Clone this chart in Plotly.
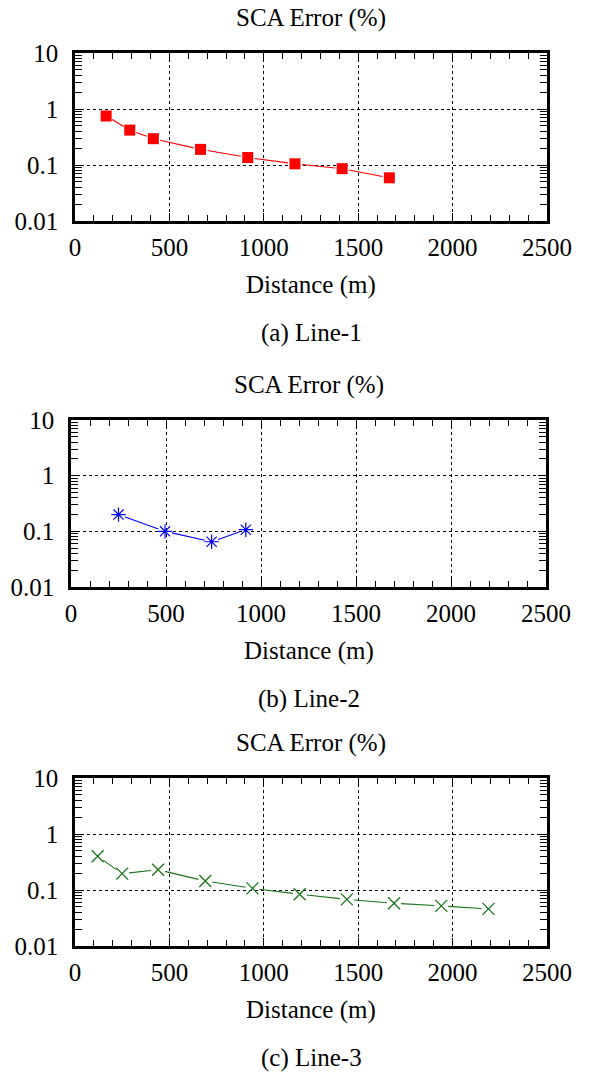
import math
import plotly.graph_objects as go

# Line-1: SCA error (%) versus distance (m)
line1_dist = [165, 290, 415, 665, 915, 1165, 1415, 1665]
line1_err = [0.75, 0.42, 0.295, 0.19, 0.136, 0.105, 0.086, 0.059]

# Line-2
line2_dist = [250, 495, 740, 920]
line2_err = [0.20, 0.10, 0.065, 0.107]

# Line-3
line3_dist = [120, 250, 440, 690, 940, 1190, 1440, 1690, 1940, 2190]
line3_err = [0.40, 0.196, 0.23, 0.145, 0.107, 0.084, 0.068, 0.058, 0.052, 0.046]

x_ticks = [0, 500, 1000, 1500, 2000, 2500]
y_ticks = [0.01, 0.1, 1, 10]
y_tick_text = ["0.01", "0.1", "1", "10"]
captions = ["(a) Line-1", "(b) Line-2", "(c) Line-3"]

FIG_W, FIG_H = 590, 1075
FONT = "Liberation Serif, Times New Roman, serif"
FS = 25
X_RANGE = [0, 2500]
Y_RANGE = [-2, 1]  # log10

# panel boxes in pixels: (left, right, top, bottom)
boxes = [(75, 547, 53, 221), (71, 546, 420, 587), (75, 547, 778, 946)]


def gapped_segments(xs, ys, box, gap=7.0):
    """Connect the points with segments that stop short of each marker."""
    left, right, top, bottom = box
    w, h = right - left, bottom - top

    def to_px(x, y):
        return ((x - X_RANGE[0]) / (X_RANGE[1] - X_RANGE[0]) * w,
                (math.log10(y) - Y_RANGE[0]) / (Y_RANGE[1] - Y_RANGE[0]) * h)

    def from_px(px, py):
        return (X_RANGE[0] + px / w * (X_RANGE[1] - X_RANGE[0]),
                10 ** (Y_RANGE[0] + py / h * (Y_RANGE[1] - Y_RANGE[0])))

    sx, sy = [], []
    for i in range(len(xs) - 1):
        p0 = to_px(xs[i], ys[i])
        p1 = to_px(xs[i + 1], ys[i + 1])
        dx, dy = p1[0] - p0[0], p1[1] - p0[1]
        d = math.hypot(dx, dy)
        if d <= 2 * gap:
            continue
        ux, uy = dx / d, dy / d
        a = from_px(p0[0] + ux * gap, p0[1] + uy * gap)
        b = from_px(p1[0] - ux * gap, p1[1] - uy * gap)
        sx += [a[0], b[0], None]
        sy += [a[1], b[1], None]
    return sx, sy


series = [
    (line1_dist, line1_err, "#ff0000", dict(symbol="square", size=11, color="#ff0000")),
    (line2_dist, line2_err, "#0000ff",
     dict(symbol="asterisk-open", size=12, color="#0000ff", line=dict(color="#0000ff", width=1.2))),
    (line3_dist, line3_err, "#1a741a",
     dict(symbol="x-thin-open", size=12, color="#1a741a", line=dict(color="#1a741a", width=1.3))),
]

fig = go.Figure()
layout = dict(
    width=FIG_W, height=FIG_H,
    margin=dict(l=0, r=0, t=0, b=0, pad=0, autoexpand=False),
    paper_bgcolor="white", plot_bgcolor="white",
    showlegend=False,
    font=dict(family=FONT, size=FS, color="black"),
    annotations=[],
)


def py_paper(y):
    return 1 - y / FIG_H


for i, ((xs, ys, color, marker), box) in enumerate(zip(series, boxes)):
    n = "" if i == 0 else str(i + 1)
    xa, ya = "x" + n, "y" + n
    left, right, top, bottom = box

    sx, sy = gapped_segments(xs, ys, box)
    fig.add_trace(go.Scatter(x=sx, y=sy, mode="lines", xaxis=xa, yaxis=ya,
                             line=dict(color=color, width=1.1), hoverinfo="skip"))
    fig.add_trace(go.Scatter(x=xs, y=ys, mode="markers", xaxis=xa, yaxis=ya, marker=marker))

    layout["xaxis" + n] = dict(
        domain=[left / FIG_W, right / FIG_W], anchor=ya, range=X_RANGE, automargin=False,
        tickvals=x_ticks, ticks="inside", ticklen=8, tickwidth=1, tickcolor="black",
        showline=True, linewidth=2.5, linecolor="black", mirror="ticks",
        showgrid=True, gridcolor="black", gridwidth=1, griddash="3px,3px",
        zeroline=False, tickfont=dict(family=FONT, size=FS), ticklabelstandoff=2,
        minor=dict(ticks="inside", ticklen=6, dtick=100, tickwidth=1,
                   tickcolor="black", showgrid=False),
    )
    layout["yaxis" + n] = dict(
        domain=[py_paper(bottom), py_paper(top)], anchor=xa, type="log", range=Y_RANGE,
        automargin=False,
        tickvals=y_ticks, ticktext=y_tick_text, ticks="inside", ticklen=8, tickwidth=1,
        tickcolor="black", showline=True, linewidth=2.5, linecolor="black", mirror="ticks",
        showgrid=True, gridcolor="black", gridwidth=1, griddash="3px,3px",
        zeroline=False, tickfont=dict(family=FONT, size=FS), ticklabelstandoff=9,
        minor=dict(ticks="inside", ticklen=7, dtick="D1", tickwidth=1,
                   tickcolor="black", showgrid=False),
    )

    cx = (left + right) / 2 / FIG_W
    layout["annotations"] += [
        dict(text="SCA Error (%)", x=cx, y=py_paper(top - 35), xref="paper", yref="paper",
             showarrow=False, xanchor="center", yanchor="middle"),
        dict(text="Distance (m)", x=cx, y=py_paper(bottom + 64), xref="paper", yref="paper",
             showarrow=False, xanchor="center", yanchor="middle"),
        dict(text=captions[i], x=cx, y=py_paper(bottom + 112), xref="paper", yref="paper",
             showarrow=False, xanchor="center", yanchor="middle"),
    ]

fig.update_layout(**layout)
fig.write_html("out.html")
